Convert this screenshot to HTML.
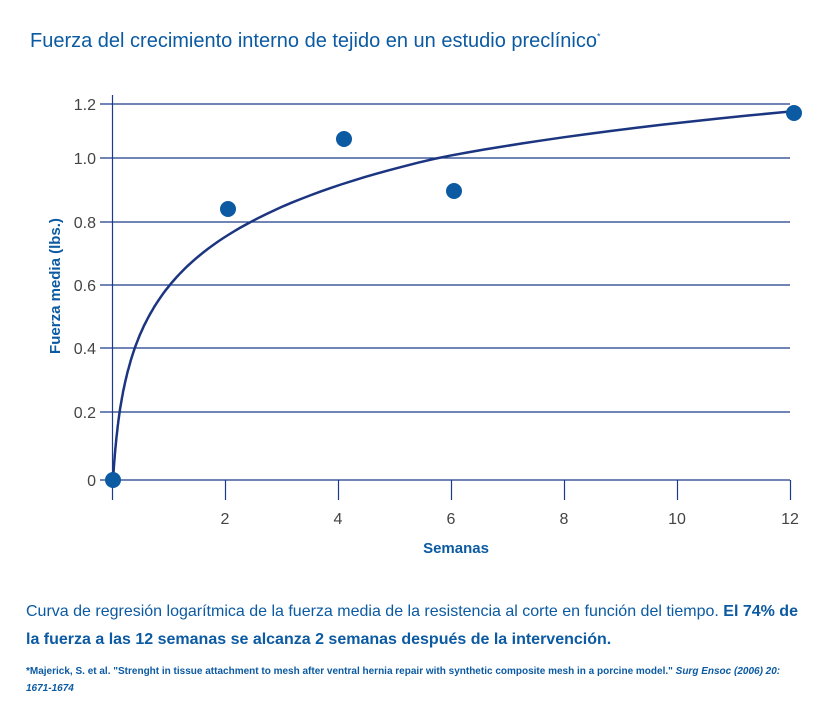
<!DOCTYPE html>
<html><head><meta charset="utf-8"><style>
body{margin:0;background:#fff;width:828px;height:710px;overflow:hidden;font-family:"Liberation Sans",sans-serif;}
.t{position:absolute;left:30px;top:30px;font-size:20px;color:#0b5aa2;}
.c{position:absolute;left:26px;top:598px;font-size:16px;line-height:28px;color:#0b5aa2;width:785px;}
.f{position:absolute;left:26px;top:663px;font-size:10px;line-height:17px;color:#0b5aa2;font-weight:bold;}
</style></head><body>
<div class="t">Fuerza del crecimiento interno de tejido en un estudio preclínico<sup style="font-size:9px">*</sup></div>
<svg width="828" height="710" style="position:absolute;left:0;top:0" id="s">
<g stroke="#1a3a8a" stroke-width="1.2">
<line x1="100" y1="104" x2="790" y2="104"/><line x1="100" y1="158" x2="790" y2="158"/>
<line x1="100" y1="222" x2="790" y2="222"/><line x1="100" y1="285" x2="790" y2="285"/>
<line x1="100" y1="348" x2="790" y2="348"/><line x1="100" y1="412" x2="790" y2="412"/>
<line x1="100" y1="480" x2="790" y2="480"/>
<line x1="112.5" y1="95" x2="112.5" y2="500"/>
<line x1="225.5" y1="480" x2="225.5" y2="500"/><line x1="338.5" y1="480" x2="338.5" y2="500"/>
<line x1="451.5" y1="480" x2="451.5" y2="500"/><line x1="564.5" y1="480" x2="564.5" y2="500"/>
<line x1="677.5" y1="480" x2="677.5" y2="500"/><line x1="790.5" y1="480" x2="790.5" y2="500"/>
</g>
<g font-size="16" fill="#444" text-anchor="end">
<text x="96" y="110">1.2</text><text x="96" y="164">1.0</text><text x="96" y="228">0.8</text>
<text x="96" y="291">0.6</text><text x="96" y="354">0.4</text><text x="96" y="418">0.2</text><text x="96" y="486">0</text>
</g>
<g font-size="16" fill="#444" text-anchor="middle">
<text x="225" y="524">2</text><text x="338" y="524">4</text><text x="451" y="524">6</text>
<text x="564" y="524">8</text><text x="677" y="524">10</text><text x="790" y="524">12</text>
</g>
<text x="456" y="553" font-size="15" font-weight="bold" fill="#0b5aa2" text-anchor="middle">Semanas</text>
<text transform="translate(60,286) rotate(-90)" font-size="15" font-weight="bold" fill="#0b5aa2" text-anchor="middle">Fuerza media (lbs.)</text>
<path id="cv" fill="none" stroke="#1c3580" stroke-width="2.5"/>
<g fill="#0b5aa2">
<circle cx="113" cy="480" r="8"/><circle cx="228" cy="209" r="8"/><circle cx="344" cy="139" r="8"/>
<circle cx="454" cy="191" r="8"/><circle cx="794" cy="113" r="8"/>
</g>
</svg>
<script>
var vs=[0,0.2,0.4,0.6,0.8,1.0,1.2],ps=[480,412,348,285,222,158,104];
function py(v){if(v<=0)return 480;for(var i=0;i<6;i++){if(v<=vs[i+1]){return ps[i]+(v-vs[i])/0.2*(ps[i+1]-ps[i]);}}return 104-(v-1.2)/0.2*54;}
var a=0.574,b=0.24,c=0.09,off=a+b*Math.log(c);
function val(t){return a+b*Math.log(t+c)-off*(1-t/12);}
var d="M113,480";
for(var t=0.002;t<=12.01;t*=1.05){d+=" L"+(113+t*56.4).toFixed(1)+","+py(Math.max(val(t),0)).toFixed(1);}
d+=" L790,"+py(val(12)).toFixed(1);
document.getElementById("cv").setAttribute("d",d);
</script>
<div class="c">Curva de regresión logarítmica de la fuerza media de la resistencia al corte en función del tiempo. <b>El 74% de la fuerza a las 12 semanas se alcanza 2 semanas después de la intervención.</b></div>
<div class="f">*Majerick, S. et al. "Strenght in tissue attachment to mesh after ventral hernia repair with synthetic composite mesh in a porcine model." <i>Surg Ensoc (2006) 20:<br>1671-1674</i></div>
</body></html>
